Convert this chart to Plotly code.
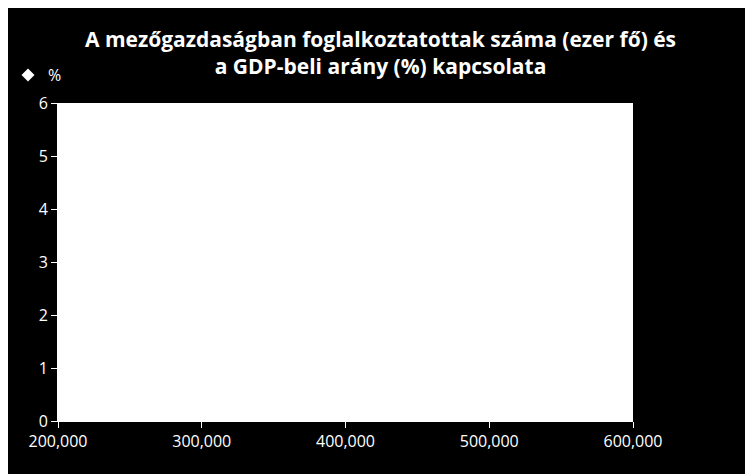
import plotly.graph_objects as go

# no points are visible in the reference: only the legend entry remains
employed = [None]
gdp_share = [None]
series_name = "%"

x_ticks = [200000, 300000, 400000, 500000, 600000]
x_labels = ["200,000", "300,000", "400,000", "500,000", "600,000"]
y_ticks = [0, 1, 2, 3, 4, 5, 6]

fig = go.Figure()
fig.add_trace(
    go.Scatter(
        x=employed,
        y=gdp_share,
        mode="markers",
        name=series_name,
        showlegend=True,
        marker=dict(symbol="diamond", color="white", size=10),
    )
)

fig.update_layout(
    width=745,
    height=466,
    paper_bgcolor="black",
    plot_bgcolor="white",
    margin=dict(l=50, r=120, t=95, b=53, autoexpand=False),
    font=dict(family="Open Sans", color="white", size=16),
    title=dict(
        text="<b>A mezőgazdaságban foglalkoztatottak száma (ezer fő) és<br>a GDP-beli arány (%) kapcsolata</b>",
        x=0.5,
        xanchor="center",
        y=0.917,
        yanchor="top",
        font=dict(size=21, color="white"),
    ),
    showlegend=True,
    legend=dict(
        xref="container",
        yref="container",
        x=0,
        y=0.856,
        xanchor="left",
        yanchor="middle",
        bgcolor="rgba(0,0,0,0)",
        itemwidth=30,
        font=dict(size=16, color="white"),
    ),
)

fig.update_xaxes(
    range=[200000, 600000],
    tickvals=x_ticks,
    ticktext=x_labels,
    ticks="outside",
    ticklen=6,
    tickcolor="white",
    showgrid=False,
    zeroline=False,
    showline=True,
    linecolor="white",
    tickfont=dict(size=16, color="white"),
)
fig.update_yaxes(
    range=[0, 6],
    tickvals=y_ticks,
    ticks="outside",
    ticklen=6,
    tickcolor="white",
    showgrid=False,
    zeroline=False,
    showline=True,
    linecolor="white",
    tickfont=dict(size=16, color="white"),
)

fig.write_html("out.html")
